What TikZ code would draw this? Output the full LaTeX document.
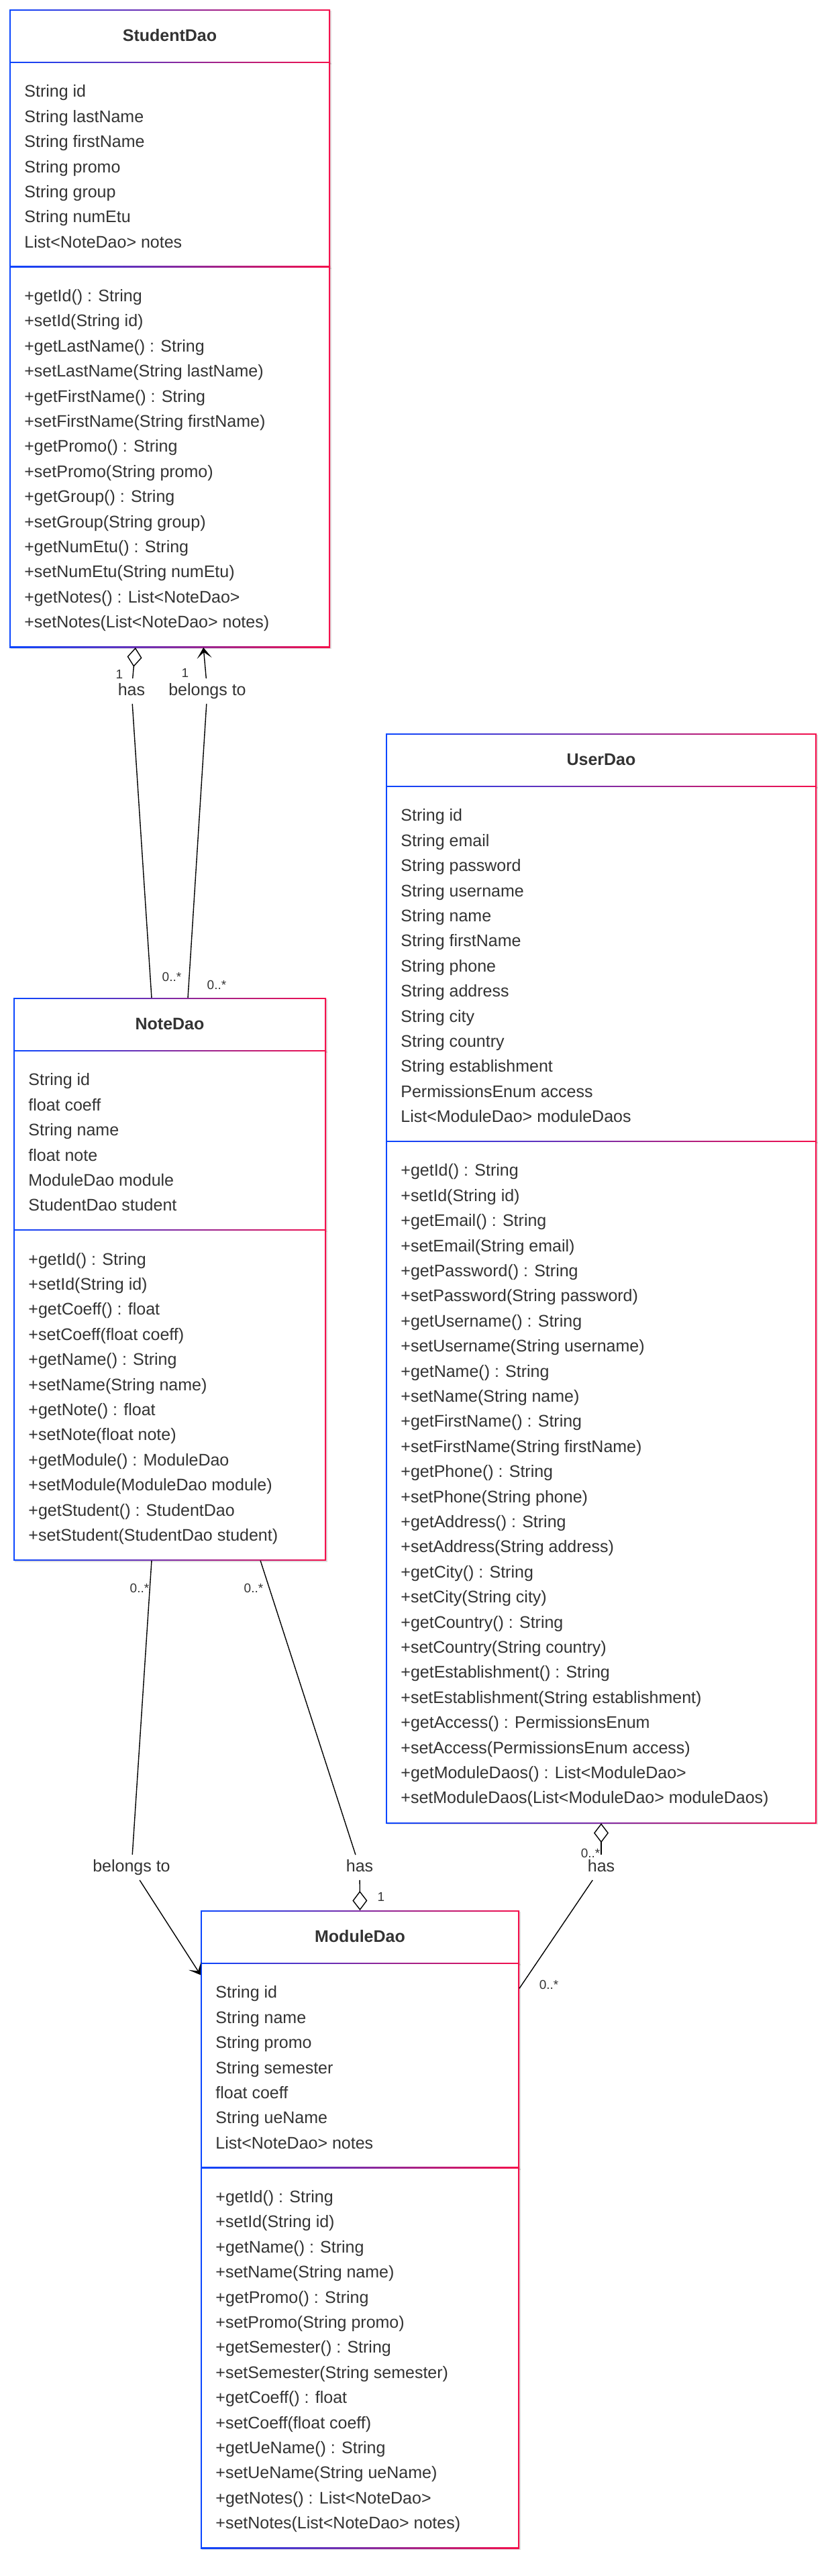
\documentclass[tikz,border=0pt]{standalone}
\usepackage{fontspec}
\setsansfont{Liberation Sans}[Ligatures=CommonOff]
\usetikzlibrary{positioning,arrows.meta,calc,shadows}
\definecolor{umlblue}{RGB}{10,70,255}
\definecolor{umlred}{RGB}{245,15,75}
\definecolor{umltext}{RGB}{51,51,51}
\tikzset{
	>={Stealth[length = 8pt, width = 11pt, inset = 4.5pt]}
}

\begin{document}
\begin{tikzpicture}[
x = 1pt, y = -1pt,
every node/.style = {
	font = \sffamily
},
classpart/.style = {
	rectangle,
	inner sep = 0pt,
	outer sep = 0pt,
	left color = umlblue,
	right color = umlred,
	drop shadow = {fill = black, opacity = 0.12, shadow xshift = 1pt, shadow yshift = -1pt},
	path picture = {
		\fill[white] ([xshift = 0.85pt, yshift = -0.85pt]path picture bounding box.north west) rectangle ([xshift = -0.85pt, yshift = 0.85pt]path picture bounding box.south east);
	}
},
classname/.style = {
	classpart,
	minimum height = 40pt,
	text height = 9pt,
	text depth = 2pt,
	text = umltext,
	font = \sffamily\bfseries\fontsize{12.5}{15}\selectfont
},
members/.style = {
	align = left,
	inner sep = 0pt,
	text = umltext,
	font = \sffamily\fontsize{12.5}{18.7}\selectfont
},
rel/.style = {
	inner xsep = 2pt,
	inner ysep = 3.4pt,
	text height = 9pt,
	text depth = 2.7pt,
	text = umltext,
	font = \sffamily\fontsize{12.5}{15}\selectfont
},
mult/.style = {
	inner sep = 0pt,
	text = umltext,
	font = \sffamily\fontsize{9.5}{11}\selectfont
},
assoc/.style = {
	line width = 0.7pt
},
aggregation/.style = {
	assoc,
	{Diamond[open, length = 14.5pt, width = 11pt]}-
}
]
\useasboundingbox (0,0) rectangle (619.5,1919.5);

% StudentDao
\node (studenthead) [classname, minimum width = 239pt, anchor = north west] at (7,7) {StudentDao};
\node (studentattr) [classpart, minimum width = 239pt, minimum height = 153.15pt, below = -0.85pt of studenthead.south west, anchor = north west] {};
\node (studentops) [classpart, minimum width = 239pt, minimum height = 284.05pt, below = -0.85pt of studentattr.south west, anchor = north west] {};
\node (studentattrtext) [members, below right = 17pt and 11pt of studentattr.north west] {String id\\String lastName\\String firstName\\String promo\\String group\\String numEtu\\List<NoteDao> notes};
\node (studentopstext) [members, below right = 17pt and 11pt of studentops.north west] {+getId() : String\\+setId(String id)\\+getLastName() : String\\+setLastName(String lastName)\\+getFirstName() : String\\+setFirstName(String firstName)\\+getPromo() : String\\+setPromo(String promo)\\+getGroup() : String\\+setGroup(String group)\\+getNumEtu() : String\\+setNumEtu(String numEtu)\\+getNotes() : List<NoteDao>\\+setNotes(List<NoteDao> notes)};

% NoteDao
\node (notehead) [classname, minimum width = 233pt, anchor = north west] at (10,743.5) {NoteDao};
\node (noteattr) [classpart, minimum width = 233pt, minimum height = 134.45pt, below = -0.85pt of notehead.south west, anchor = north west] {};
\node (noteops) [classpart, minimum width = 233pt, minimum height = 246.65pt, below = -0.85pt of noteattr.south west, anchor = north west] {};
\node (noteattrtext) [members, below right = 17pt and 11pt of noteattr.north west] {String id\\float coeff\\String name\\float note\\ModuleDao module\\StudentDao student};
\node (noteopstext) [members, below right = 17pt and 11pt of noteops.north west] {+getId() : String\\+setId(String id)\\+getCoeff() : float\\+setCoeff(float coeff)\\+getName() : String\\+setName(String name)\\+getNote() : float\\+setNote(float note)\\+getModule() : ModuleDao\\+setModule(ModuleDao module)\\+getStudent() : StudentDao\\+setStudent(StudentDao student)};

% UserDao
\node (userhead) [classname, minimum width = 321pt, anchor = north west] at (287.5,546.5) {UserDao};
\node (userattr) [classpart, minimum width = 321pt, minimum height = 265.35pt, below = -0.85pt of userhead.south west, anchor = north west] {};
\node (userops) [classpart, minimum width = 321pt, minimum height = 508.45pt, below = -0.85pt of userattr.south west, anchor = north west] {};
\node (userattrtext) [members, below right = 17pt and 11pt of userattr.north west] {String id\\String email\\String password\\String username\\String name\\String firstName\\String phone\\String address\\String city\\String country\\String establishment\\PermissionsEnum access\\List<ModuleDao> moduleDaos};
\node (useropstext) [members, below right = 17pt and 11pt of userops.north west] {+getId() : String\\+setId(String id)\\+getEmail() : String\\+setEmail(String email)\\+getPassword() : String\\+setPassword(String password)\\+getUsername() : String\\+setUsername(String username)\\+getName() : String\\+setName(String name)\\+getFirstName() : String\\+setFirstName(String firstName)\\+getPhone() : String\\+setPhone(String phone)\\+getAddress() : String\\+setAddress(String address)\\+getCity() : String\\+setCity(String city)\\+getCountry() : String\\+setCountry(String country)\\+getEstablishment() : String\\+setEstablishment(String establishment)\\+getAccess() : PermissionsEnum\\+setAccess(PermissionsEnum access)\\+getModuleDaos() : List<ModuleDao>\\+setModuleDaos(List<ModuleDao> moduleDaos)};

% ModuleDao
\node (modulehead) [classname, minimum width = 237.5pt, anchor = north west] at (149.5,1423.5) {ModuleDao};
\node (moduleattr) [classpart, minimum width = 237.5pt, minimum height = 153.15pt, below = -0.85pt of modulehead.south west, anchor = north west] {};
\node (moduleops) [classpart, minimum width = 237.5pt, minimum height = 284.05pt, below = -0.85pt of moduleattr.south west, anchor = north west] {};
\node (moduleattrtext) [members, below right = 17pt and 11pt of moduleattr.north west] {String id\\String name\\String promo\\String semester\\float coeff\\String ueName\\List<NoteDao> notes};
\node (moduleopstext) [members, below right = 17pt and 11pt of moduleops.north west] {+getId() : String\\+setId(String id)\\+getName() : String\\+setName(String name)\\+getPromo() : String\\+setPromo(String promo)\\+getSemester() : String\\+setSemester(String semester)\\+getCoeff() : float\\+setCoeff(float coeff)\\+getUeName() : String\\+setUeName(String ueName)\\+getNotes() : List<NoteDao>\\+setNotes(List<NoteDao> notes)};

% relation labels
\node (hasnotes) [rel] at (98,515) {has};
\node (belongsstudent) [rel] at (154.5,515) {belongs to};
\node (belongsmodule) [rel] at (98,1391.5) {belongs to};
\node (hasmodulenotes) [rel] at (268,1391.5) {has};
\node (hasmodules) [rel] at (448,1391.5) {has};

\node (hasnotesone) [mult] at (89,502.5) {1};
\node (hasnotesmany) [mult] at (128,728) {0..*};
\node (belongsstudentone) [mult] at (138,501.5) {1};
\node (belongsstudentmany) [mult] at (161.5,734) {0..*};
\node (belongsmodulemany) [mult] at (104,1183.5) {0..*};
\node (hasmodulenotesmany) [mult] at (189,1183.5) {0..*};
\node (hasmodulenotesone) [mult] at (284,1413.5) {1};
\node (hasmodulesmany) [mult] at (440,1381) {0..*};
\node (hasmodulesmodule) [mult] at (409,1479) {0..*};

% relations
\draw [aggregation] ($(studentops.south west)!0.393!(studentops.south east)$) -- (hasnotes);
\draw [assoc] (hasnotes) -- ($(notehead.north west)!0.442!(notehead.north east)$);
\draw [assoc, ->] ($(notehead.north west)!0.558!(notehead.north east)$) -- (belongsstudent) -- ($(studentops.south west)!0.605!(studentops.south east)$);
\draw [assoc, ->] ($(noteops.south west)!0.442!(noteops.south east)$) -- (belongsmodule) -- ([yshift = -9pt]moduleattr.north west);
\draw [aggregation] (modulehead.north) -- (hasmodulenotes);
\draw [assoc] (hasmodulenotes) -- ($(noteops.south west)!0.79!(noteops.south east)$);
\draw [aggregation] (userops.south) -- (hasmodules);
\draw [assoc] (hasmodules) -- ([yshift = -19pt]moduleattr.north east);

\end{tikzpicture}
\end{document}
